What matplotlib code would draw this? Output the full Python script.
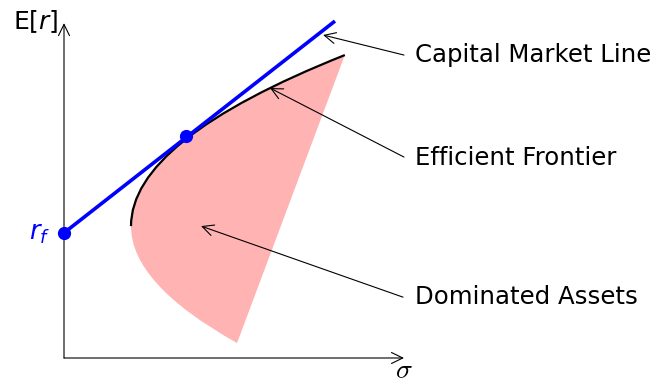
import matplotlib
matplotlib.use("Agg")
import matplotlib.pyplot as plt
from matplotlib.path import Path
from matplotlib.patches import PathPatch, FancyArrowPatch

# ---- data (units of the sketch, origin at the axis corner) ----
axis_x_end = 10.0
axis_y_end = 9.85
risk_free = 3.68
cml_end = (7.97, 9.91)
tangency = (3.59, 6.53)

# quadratic Bezier control points for the frontier (upper) and the lower edge
frontier_ctrl = [(1.97, 3.88), (1.97, 6.41), (8.26, 8.91)]
lower_ctrl = [(1.97, 3.88), (1.97, 2.18), (5.09, 0.44)]

labels = ["Capital Market Line", "Efficient Frontier", "Dominated Assets"]
label_y = [8.91, 5.88, 1.79]
arrow_tips = [(7.62, 9.50), (6.06, 7.94), (4.03, 3.88)]
arrow_tails = [(10.0, 8.91), (10.0, 5.91), (9.97, 1.79)]
label_x = 10.33

# ---- figure ----
W, H, DPI = 659, 386, 100
S = 34.0  # pixels per unit
ox, oy = 64, 358  # pixel position of the origin
fig = plt.figure(figsize=(W / DPI, H / DPI), dpi=DPI)
ax = fig.add_axes([0, 0, 1, 1])
ax.set_xlim(-ox / S, (W - ox) / S)
ax.set_ylim(-(H - oy) / S, oy / S)
ax.axis("off")

BLUE = (0, 0, 1)
PINK = (1, 0.7, 0.7)

# shaded feasible region: lower edge, straight right edge, frontier back
p0, p1, p2 = lower_ctrl
f0, f1, f2 = frontier_ctrl
verts = [p0, p1, p2, f2, f1, f0]
codes = [Path.MOVETO, Path.CURVE3, Path.CURVE3, Path.LINETO, Path.CURVE3, Path.CURVE3]
ax.add_patch(PathPatch(Path(verts, codes), facecolor=PINK, edgecolor="none", zorder=1))

# efficient frontier
ax.add_patch(PathPatch(Path(frontier_ctrl, [Path.MOVETO, Path.CURVE3, Path.CURVE3]),
                       facecolor="none", edgecolor="black", lw=1.6, zorder=3))

# axes with arrow heads
arrow_kw = dict(arrowstyle="->,head_length=0.45,head_width=0.22", color="black",
                lw=0.8, mutation_scale=18, shrinkA=0, shrinkB=0, zorder=2)
ax.add_patch(FancyArrowPatch((0, 0), (axis_x_end, 0), **arrow_kw))
ax.add_patch(FancyArrowPatch((0, 0), (0, axis_y_end), **arrow_kw))

# capital market line
ax.plot([0, cml_end[0]], [risk_free, cml_end[1]], color=BLUE, lw=2.6,
        solid_capstyle="butt", zorder=4)
ax.plot([0, tangency[0]], [risk_free, tangency[1]], "o", color=BLUE, ms=8.5, zorder=5)

# annotations
for text, ty, tip, tail in zip(labels, label_y, arrow_tips, arrow_tails):
    ax.add_patch(FancyArrowPatch(tail, tip, **arrow_kw))
    ax.text(label_x, ty, text, fontsize=17.6, ha="left", va="center",
            family="DejaVu Sans", zorder=6)

ax.text(-0.17, 9.9, r"$\mathrm{E}[r]$", fontsize=18, ha="right", va="center",
        math_fontfamily="dejavusans")
ax.text(-0.41, risk_free, r"$r_f$", fontsize=18.5, ha="right", va="center",
        color=BLUE, math_fontfamily="dejavusans")
ax.text(axis_x_end, -0.78, r"$\sigma$", fontsize=20, ha="center", va="bottom",
        math_fontfamily="cm")

fig.savefig("out.png", dpi=DPI)
